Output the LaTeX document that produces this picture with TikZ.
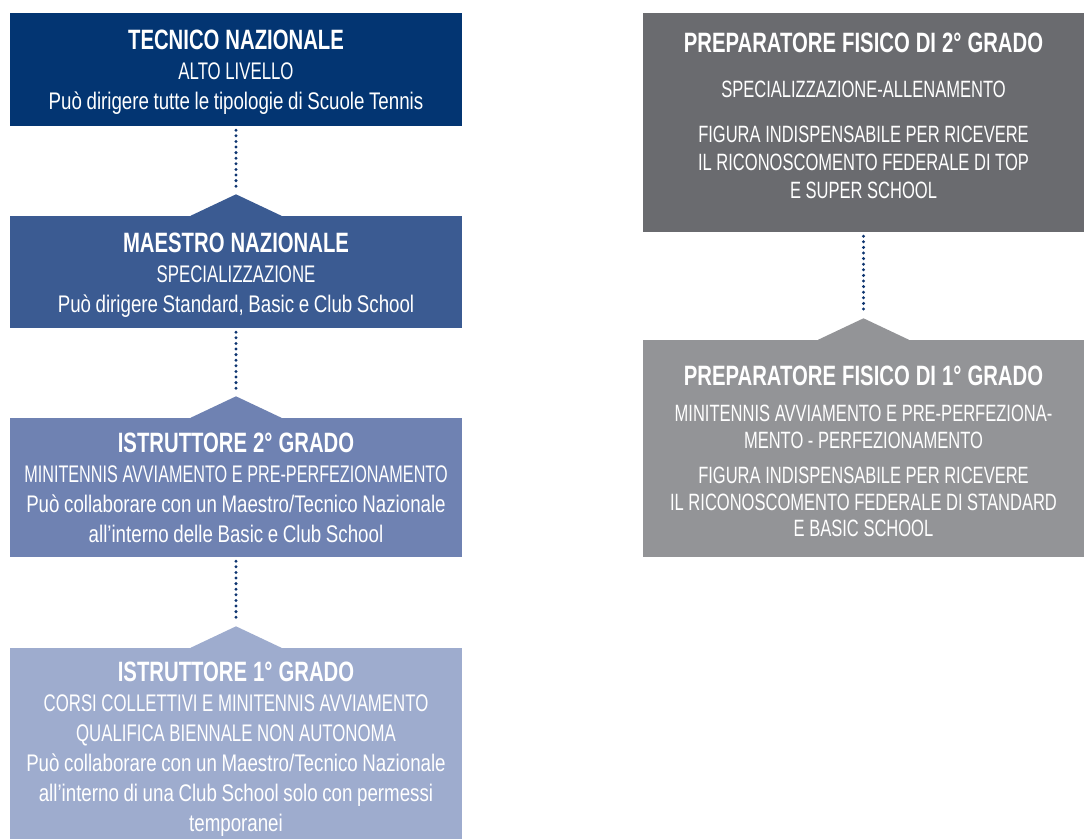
\documentclass[tikz,border=0pt]{standalone}
\usepackage{fontspec}
\setmainfont{Liberation Sans}[FakeStretch=0.78]
\newfontfamily\capsfont{Liberation Sans}[FakeStretch=0.70]
\newfontfamily\narrowcaps{Liberation Sans}[FakeStretch=0.675]
\newfontfamily\titlefont{Liberation Sans}[FakeStretch=0.725]

\definecolor{navyA}{HTML}{033572}
\definecolor{navyB}{HTML}{3B5B92}
\definecolor{navyC}{HTML}{6F82B2}
\definecolor{navyD}{HTML}{9EACCE}
\definecolor{greyA}{HTML}{6A6B6F}
\definecolor{greyB}{HTML}{939497}
\definecolor{dotcol}{HTML}{0D3470}

\newcommand{\fontL}{\fontsize{24}{30}\selectfont\spaceskip=4.6pt plus 1pt\relax}
\newcommand{\fontR}{\capsfont\fontsize{23.6}{26.5}\selectfont\spaceskip=4.6pt plus 1pt\relax}
\newcommand{\lvtitle}[1]{{\titlefont\fontsize{28}{30}\selectfont\bfseries\spaceskip=6pt\relax #1}}
\newcommand{\lvcaps}[1]{{\capsfont #1}}

\tikzset{
  level/.style={text=white, inner sep=0pt, align=center},
  levelL/.style={level, minimum width=452pt, font=\fontL},
  levelR/.style={level, minimum width=441pt, font=\fontR},
  link/.style={dotcol, line width=3.3pt, line cap=round,
    dash pattern=on 0pt off 5.6pt, shorten <=4pt, shorten >=4pt}
}

\begin{document}
\begin{tikzpicture}[x=1pt,y=1pt]
\useasboundingbox (0,0) rectangle (1084,-839);

% Left column, boxes
\node [levelL, fill=navyA, minimum height=113pt] (tecnico) at (236,-69.5)
  {\lvtitle{\rule{0pt}{24pt}TECNICO NAZIONALE}\\ \lvcaps{ALTO LIVELLO}\\
   Può dirigere tutte le tipologie di Scuole Tennis};
\node [levelL, fill=navyB, minimum height=112pt] (maestro) at (236,-272)
  {\lvtitle{\rule{0pt}{26pt}MAESTRO NAZIONALE}\\ \lvcaps{SPECIALIZZAZIONE}\\
   Può dirigere Standard, Basic e Club School};
\node [levelL, fill=navyC, minimum height=139pt] (istr2) at (236,-487.5)
  {\lvtitle{ISTRUTTORE 2° GRADO}\\
   {\narrowcaps MINITENNIS AVVIAMENTO E PRE-PERFEZIONAMENTO}\\
   Può collaborare con un Maestro/Tecnico Nazionale\\
   all’interno delle Basic e Club School};
\node [levelL, fill=navyD, minimum height=191pt] (istr1) at (236,-743.5)
  {\lvtitle{\rule{0pt}{30pt}ISTRUTTORE 1° GRADO}\\
   \lvcaps{CORSI COLLETTIVI E MINITENNIS AVVIAMENTO}\\
   \lvcaps{QUALIFICA BIENNALE NON AUTONOMA}\\
   Può collaborare con un Maestro/Tecnico Nazionale\\
   all’interno di una Club School solo con permessi\\ temporanei};

% Right column, boxes
\node [levelR, fill=greyA, minimum height=219pt] (prep2) at (863.5,-122.5)
  {\lvtitle{PREPARATORE FISICO DI 2° GRADO}\\[19pt]
   SPECIALIZZAZIONE-ALLENAMENTO\\[18pt]
   FIGURA INDISPENSABILE PER RICEVERE\\[1.5pt]
   IL RICONOSCOMENTO FEDERALE DI TOP\\[2pt]
   E SUPER SCHOOL\rule[-14pt]{0pt}{0pt}};
\node [levelR, fill=greyB, minimum height=217pt] (prep1) at (863.5,-448.5)
  {\lvtitle{\rule{0pt}{26pt}PREPARATORE FISICO DI 1° GRADO}\\[9.5pt]
   MINITENNIS AVVIAMENTO E PRE-PERFEZIONA-\\
   MENTO - PERFEZIONAMENTO\\[8.5pt]
   FIGURA INDISPENSABILE PER RICEVERE\\[0.5pt]
   IL RICONOSCOMENTO FEDERALE DI STANDARD\\
   E BASIC SCHOOL};

% Tabs on top of the lower boxes
\foreach \b/\c in {maestro/navyB, istr2/navyC, istr1/navyD, prep1/greyB}{
  \coordinate (\b-tip) at ([yshift=21.5pt]\b.north);
  \fill [\c] ([xshift=-45.5pt]\b.north) -- (\b-tip) -- ([xshift=45.5pt]\b.north) -- cycle;
}

% Dotted links
\draw [link] (tecnico.south) -- (maestro-tip);
\draw [link] (maestro.south) -- (istr2-tip);
\draw [link] (istr2.south) -- (istr1-tip);
\draw [link] (prep2.south) -- (prep1-tip);
\end{tikzpicture}
\end{document}
